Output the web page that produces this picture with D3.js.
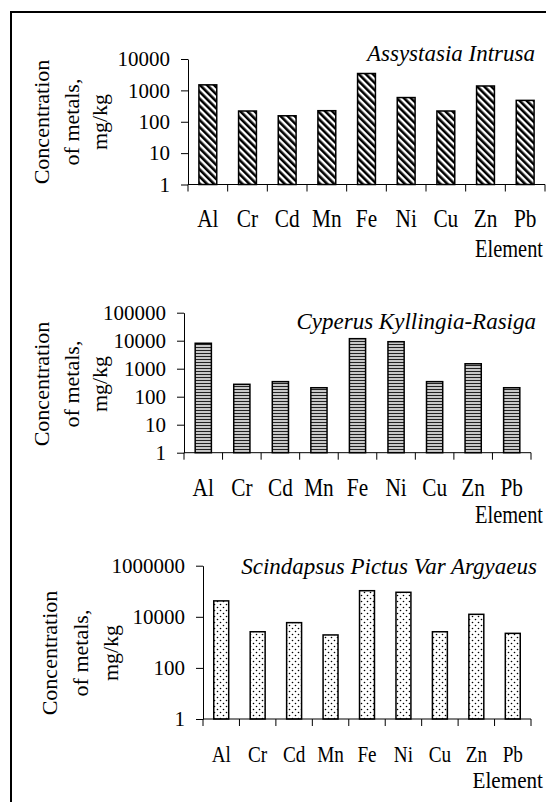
<!DOCTYPE html>
<html>
<head>
<meta charset="utf-8">
<script src="https://cdn.jsdelivr.net/npm/d3@7.9.0/dist/d3.min.js"></script>
<style>
  html, body { margin: 0; padding: 0; background: #fff; }
  svg { display: block; }
  text { font-family: "Liberation Serif", "Times New Roman", serif; fill: #000; }
</style>
</head>
<body>
<div id="chart"></div>
<script>
// values (mg/kg)
const elements = ["Al", "Cr", "Cd", "Mn", "Fe", "Ni", "Cu", "Zn", "Pb"];
const assystasia = [1500, 220, 155, 225, 3450, 590, 220, 1380, 480];
const cyperus = [8100, 277, 345, 209, 11800, 9200, 345, 1500, 209];
const scindapsus = [42000, 2600, 5900, 1950, 105000, 91000, 2600, 12500, 2250];

const ticksA = [1, 10, 100, 1000, 10000];
const ticksB = [1, 10, 100, 1000, 10000, 100000];
const ticksC = [1, 100, 10000, 1000000];

const plantNames = ["Assystasia Intrusa", "Cyperus Kyllingia-Rasiga", "Scindapsus Pictus Var Argyaeus"];
const yTitle = ["Concentration", "of metals,", "mg/kg"];
const xTitle = "Element";

const width = 546;
const height = 802;

const svg = d3.select("#chart")
  .append("svg")
  .attr("width", width)
  .attr("height", height);

svg.append("rect").attr("width", width).attr("height", height).attr("fill", "#fff");

// fill patterns
const defs = svg.append("defs");

const diag = defs.append("pattern")
  .attr("id", "diag")
  .attr("patternUnits", "userSpaceOnUse")
  .attr("width", 5).attr("height", 5)
  .attr("patternTransform", "rotate(-45)");
diag.append("rect").attr("width", 5).attr("height", 5).attr("fill", "#fff");
diag.append("rect").attr("width", 2.6).attr("height", 5).attr("fill", "#000");

const horiz = defs.append("pattern")
  .attr("id", "horiz")
  .attr("patternUnits", "userSpaceOnUse")
  .attr("width", 4).attr("height", 3);
horiz.append("rect").attr("width", 4).attr("height", 3).attr("fill", "#c8c8c8");
horiz.append("rect").attr("y", 2).attr("width", 4).attr("height", 1).attr("fill", "#222");

const dots = defs.append("pattern")
  .attr("id", "dots")
  .attr("patternUnits", "userSpaceOnUse")
  .attr("width", 6).attr("height", 6);
dots.append("rect").attr("width", 6).attr("height", 6).attr("fill", "#fff");
dots.append("circle").attr("cx", 1.5).attr("cy", 1.5).attr("r", 0.8).attr("fill", "#000");
dots.append("circle").attr("cx", 4.5).attr("cy", 4.5).attr("r", 0.8).attr("fill", "#000");

// frame (left + top, the right side runs off the picture)
svg.append("path")
  .attr("d", `M11,${height} V12 H${width}`)
  .attr("fill", "none")
  .attr("stroke", "#000")
  .attr("stroke-width", 2);

const panels = [
  {
    values: assystasia, ticks: ticksA, name: plantNames[0], fill: "url(#diag)",
    left: 188, right: 545, bottom: 184.5, top: 59, barRatio: 0.45,
    titleX: 535, titleY: 61,
    yTitleY: 122, yTitleX: [49, 78.5, 107],
    catY: 226.7, catSize: 26, catSx: 0.82,
    elemY: 257, elemSize: 26, elemSx: 0.785
  },
  {
    values: cyperus, ticks: ticksB, name: plantNames[1], fill: "url(#horiz)",
    left: 184, right: 531, bottom: 452.7, top: 312.7, barRatio: 0.42,
    titleX: 536, titleY: 329,
    yTitleY: 384, yTitleX: [49, 78.5, 107],
    catY: 496, catSize: 26, catSx: 0.82,
    elemY: 523, elemSize: 26, elemSx: 0.785
  },
  {
    values: scindapsus, ticks: ticksC, name: plantNames[2], fill: "url(#dots)",
    left: 203, right: 531, bottom: 719, top: 565.7, barRatio: 0.41,
    titleX: 537, titleY: 574,
    yTitleY: 653, yTitleX: [57, 88, 118],
    catY: 762, catSize: 24, catSx: 0.8,
    elemY: 788, elemSize: 23, elemSx: 0.92
  }
];

panels.forEach((p) => {
  const g = svg.append("g");

  const x = d3.scaleBand()
    .domain(elements)
    .range([p.left, p.right])
    .paddingInner(0)
    .paddingOuter(0);

  const y = d3.scaleLog()
    .domain([1, p.ticks[p.ticks.length - 1]])
    .range([p.bottom, p.top]);

  // bars
  const bw = x.bandwidth() * p.barRatio;
  g.append("g")
    .selectAll("rect")
    .data(p.values)
    .join("rect")
    .attr("x", (d, i) => x(elements[i]) + (x.bandwidth() - bw) / 2)
    .attr("y", (d) => y(d))
    .attr("width", bw)
    .attr("height", (d) => y(1) - y(d))
    .attr("fill", p.fill)
    .attr("stroke", "#000")
    .attr("stroke-width", 1.5);

  // y axis
  const yAxis = d3.axisLeft(y)
    .tickValues(p.ticks)
    .tickFormat(d3.format("d"))
    .tickSize(7)
    .tickSizeOuter(0)
    .tickPadding(11);

  const ya = g.append("g")
    .attr("transform", `translate(${p.left},0)`)
    .call(yAxis);
  ya.select(".domain").attr("stroke", "#000").attr("stroke-width", 1);
  ya.selectAll(".tick line").attr("stroke", "#000");
  ya.selectAll(".tick text")
    .attr("font-size", 21)
    .attr("fill", "#000");

  // x axis: baseline with ticks at the category boundaries
  g.append("line")
    .attr("x1", p.left).attr("x2", p.right)
    .attr("y1", y(1)).attr("y2", y(1))
    .attr("stroke", "#000");

  const bounds = elements.map((e) => x(e)).concat([x.range()[1]]);
  g.append("g")
    .selectAll("line")
    .data(bounds)
    .join("line")
    .attr("x1", (d) => d).attr("x2", (d) => d)
    .attr("y1", y(1)).attr("y2", y(1) + 7)
    .attr("stroke", "#000");

  // category labels
  g.append("g")
    .selectAll("text")
    .data(elements)
    .join("text")
    .attr("transform", (d) => `translate(${x(d) + x.bandwidth() / 2},${p.catY}) scale(${p.catSx},1)`)
    .attr("text-anchor", "middle")
    .attr("font-size", p.catSize)
    .text((d) => d);

  g.append("text")
    .attr("transform", `translate(${width - 3},${p.elemY}) scale(${p.elemSx},1)`)
    .attr("text-anchor", "end")
    .attr("font-size", p.elemSize)
    .text(xTitle);

  // plant name
  g.append("text")
    .attr("x", p.titleX)
    .attr("y", p.titleY)
    .attr("text-anchor", "end")
    .attr("font-size", 23)
    .attr("font-style", "italic")
    .text(p.name);

  // y axis title, three lines rotated
  yTitle.forEach((line, i) => {
    g.append("text")
      .attr("transform", `translate(${p.yTitleX[i]},${p.yTitleY}) rotate(-90)`)
      .attr("text-anchor", "middle")
      .attr("font-size", 22)
      .text(line);
  });
});
</script>
</body>
</html>
